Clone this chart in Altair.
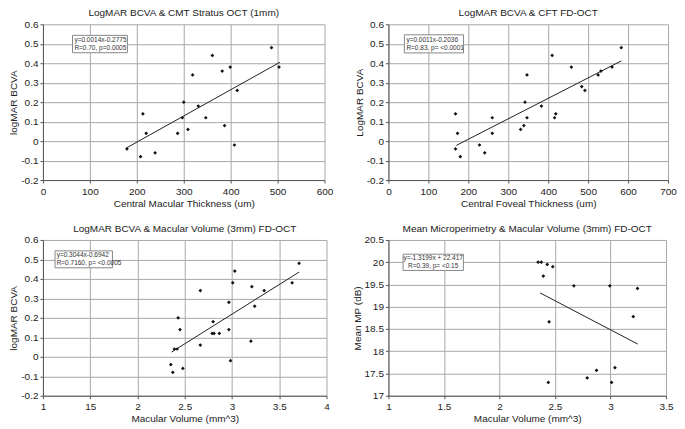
import altair as alt
import pandas as pd

FONT = "Liberation Sans"

# ---- Panel 1: LogMAR BCVA vs CMT Stratus OCT ----
p1_x = [179, 208, 213, 220, 239, 287, 297, 300, 309, 319, 331, 347, 361, 382, 387, 399, 408, 414, 487, 503]
p1_y = [-0.04, -0.08, 0.14, 0.04, -0.06, 0.04, 0.12, 0.2, 0.06, 0.34, 0.18, 0.12, 0.44, 0.36, 0.08, 0.38, -0.02, 0.26, 0.48, 0.38]
p1_line_x = [178, 505]
p1_line_y = [-0.035, 0.405]
p1_text = ["y=0.0014x-0.2775", "R=0.70, p=0.0005"]

# ---- Panel 2: LogMAR BCVA vs CFT FD-OCT ----
p2_x = [168, 168, 173, 180, 228, 241, 260, 260, 331, 339, 342, 347, 347, 383, 410, 416, 419, 458, 484, 492, 525, 532, 560, 583]
p2_y = [-0.04, 0.14, 0.04, -0.08, -0.02, -0.06, 0.12, 0.04, 0.06, 0.08, 0.2, 0.34, 0.12, 0.18, 0.44, 0.12, 0.14, 0.38, 0.28, 0.26, 0.34, 0.36, 0.38, 0.48]
p2_line_x = [170, 583]
p2_line_y = [-0.022, 0.412]
p2_text = ["y=0.0011x-0.2036", "R=0.83, p= <0.0001"]

# ---- Panel 3: LogMAR BCVA vs Macular Volume ----
p3_x = [2.353, 2.374, 2.39, 2.42, 2.43, 2.45, 2.48, 2.665, 2.665, 2.79, 2.81, 2.80, 2.866, 2.967, 2.967, 2.984, 3.008, 3.03, 3.20, 3.21, 3.24, 3.34, 3.636, 3.71]
p3_y = [-0.04, -0.08, 0.04, 0.04, 0.2, 0.14, -0.06, 0.34, 0.06, 0.12, 0.12, 0.18, 0.12, 0.28, 0.14, -0.02, 0.38, 0.44, 0.08, 0.36, 0.26, 0.34, 0.38, 0.48]
p3_line_x = [2.36, 3.71]
p3_line_y = [0.024, 0.435]
p3_text = ["y=0.3044x-0.6942", "R=0.7160, p= <0.0005"]
p3_ticks = [1, 1.5, 2, 2.5, 3, 3.5, 4]
p3_tick_labels = ["1", "15", "2", "2.5", "3", "3.5", "4"]

# ---- Panel 4: Mean MP vs Macular Volume ----
p4_x = [2.348, 2.377, 2.395, 2.43, 2.447, 2.44, 2.48, 2.67, 2.79, 2.874, 2.994, 3.01, 3.04, 3.205, 3.243]
p4_y = [20.0, 20.0, 19.69, 19.95, 18.66, 17.3, 19.9, 19.47, 17.4, 17.57, 19.47, 17.3, 17.63, 18.78, 19.41]
p4_line_x = [2.366, 3.246]
p4_line_y = [19.31, 18.16]
p4_text = ["y=-1.3199x + 22.417", "R=0.39, p= <0.15"]

GRID = "#a8a8a8"
DOMAIN = "#555555"


def make_axis(values, label_padding, title_padding, labels=None):
    if labels is not None:
        expr = " : ".join(f"datum.value == {v} ? '{l}'" for v, l in zip(values, labels)) + " : ''+datum.value"
    else:
        expr = "'' + datum.value"
    return alt.Axis(values=values, tickCount=30, grid=True, gridColor=GRID, gridWidth=1,
                    domainColor=DOMAIN, tickColor=DOMAIN, tickSize=3,
                    labelFont=FONT, labelFontSize=10, labelColor="#222",
                    labelOverlap=False, labelFlush=False, labelExpr=expr,
                    titleFont=FONT, titleFontSize=10, titleFontWeight="normal",
                    titleColor="#222", labelPadding=label_padding, titlePadding=title_padding)


def panel(title, xs, ys, lx, ly, xdom, xvals, ydom, yvals, xtitle, ytitle,
          box, text_lines, text_pos, text_align, width, height, xlabels=None):
    pts = pd.DataFrame({"x": xs, "y": ys})
    ln = pd.DataFrame({"x": lx, "y": ly})
    xaxis = make_axis(xvals, 3, 2, xlabels)
    yaxis = make_axis(yvals, 2, 2)
    xsc = alt.Scale(domain=xdom, nice=False, zero=False)
    ysc = alt.Scale(domain=ydom, nice=False, zero=False)

    base_pts = alt.Chart(pts).mark_point(shape="diamond", filled=True, color="#111",
                                          size=14, opacity=1).encode(
        x=alt.X("x:Q", scale=xsc, axis=xaxis, title=xtitle),
        y=alt.Y("y:Q", scale=ysc, axis=yaxis, title=ytitle),
    )
    line = alt.Chart(ln).mark_line(color="#222", strokeWidth=1).encode(
        x=alt.X("x:Q", scale=xsc), y=alt.Y("y:Q", scale=ysc))
    bx = pd.DataFrame({"x": [box[0]], "x2": [box[1]], "y": [box[2]], "y2": [box[3]]})
    rect = alt.Chart(bx).mark_rect(fill="white", stroke="#888", strokeWidth=1).encode(
        x=alt.X("x:Q", scale=xsc), x2="x2:Q", y=alt.Y("y:Q", scale=ysc), y2="y2:Q")
    td = pd.DataFrame({"x": [text_pos[0]] * 2, "y": text_pos[1], "t": text_lines})
    txt = alt.Chart(td).mark_text(font=FONT, fontSize=6.5, color="#333",
                                  align=text_align, baseline="middle").encode(
        x=alt.X("x:Q", scale=xsc), y=alt.Y("y:Q", scale=ysc), text="t:N")
    return alt.layer(base_pts, line, rect, txt).properties(
        width=width, height=height,
        title=alt.TitleParams(title, font=FONT, fontSize=10, fontWeight="normal",
                              color="#222", offset=1, anchor="middle"))


c1 = panel("LogMAR BCVA & CMT Stratus OCT (1mm)", p1_x, p1_y, p1_line_x, p1_line_y,
           [0, 600], [0, 100, 200, 300, 400, 500, 600], [-0.2, 0.6],
           [-0.2, -0.1, 0, 0.1, 0.2, 0.3, 0.4, 0.5, 0.6],
           "Central Macular Thickness (um)", "logMAR BCVA",
           [63, 180, 0.543, 0.454], p1_text, (67, [0.519, 0.476]), "left", 282, 156)
c2 = panel("LogMAR BCVA & CFT FD-OCT", p2_x, p2_y, p2_line_x, p2_line_y,
           [0, 700], [0, 100, 200, 300, 400, 500, 600, 700], [-0.2, 0.6],
           [-0.2, -0.1, 0, 0.1, 0.2, 0.3, 0.4, 0.5, 0.6],
           "Central Foveal Thickness (um)", "LogMAR BCVA",
           [40, 188, 0.546, 0.453], p2_text, (45, [0.521, 0.478]), "left", 280, 156)
c3 = panel("LogMAR BCVA & Macular Volume (3mm) FD-OCT", p3_x, p3_y, p3_line_x, p3_line_y,
           [1, 4], p3_ticks, [-0.2, 0.6],
           [-0.2, -0.1, 0, 0.1, 0.2, 0.3, 0.4, 0.5, 0.6],
           "Macular Volume (mm^3)", "logMAR BCVA",
           [1.128, 1.735, 0.544, 0.457], p3_text, (1.145, [0.523, 0.483]), "left", 284, 156,
           xlabels=p3_tick_labels)
c4 = panel("Mean Microperimetry & Macular Volume (3mm) FD-OCT", p4_x, p4_y, p4_line_x, p4_line_y,
           [1, 3.5], [1, 1.5, 2, 2.5, 3, 3.5], [17, 20.5],
           [17, 17.5, 18, 18.5, 19, 19.5, 20, 20.5],
           "Macular Volume (mm^3)", "Mean MP (dB)",
           [1.132, 1.675, 20.18, 19.815], p4_text, (1.403, [20.095, 19.915]), "center", 278, 156)

chart = alt.vconcat(
    alt.hconcat(c1, c2, spacing=20),
    alt.hconcat(c3, c4, spacing=22),
    spacing=16,
).configure_view(stroke=None).properties(padding={"left": 0, "top": 0, "right": 0, "bottom": 0})

chart.save("out.html", embed_options={"renderer": "svg", "actions": False})
